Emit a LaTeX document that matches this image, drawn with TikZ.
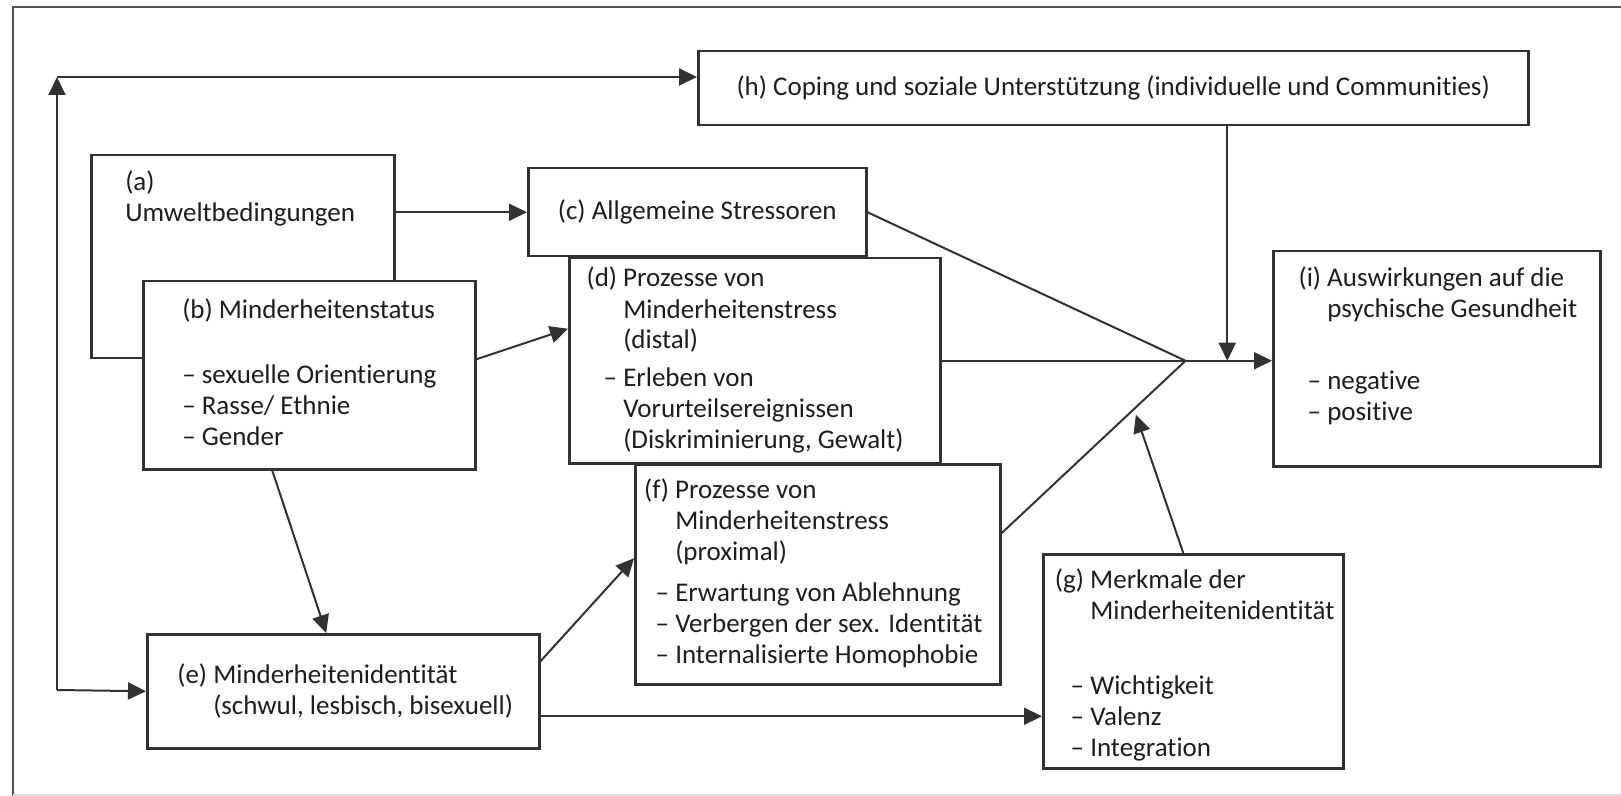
\documentclass[tikz,border=0pt]{standalone}
\usepackage{fontspec}
\setmainfont{Carlito}[Ligatures=NoCommon]
\usetikzlibrary{arrows.meta,calc}
\definecolor{framegray}{RGB}{80,80,86}
\definecolor{linegray}{RGB}{50,50,50}
\definecolor{textgray}{RGB}{30,30,30}
\newlength{\px}
\setlength{\px}{0.5pt}
% width, height, left margin, top gap, text (all in px)
\newcommand{\boxbody}[5]{%
  \begin{minipage}[c][#2\px][t]{#1\px}\raggedright\setlength{\leftskip}{#3\px}%
  \vspace*{#4\px}\strut #5\end{minipage}}
\newcommand{\boxlabel}[1]{\leavevmode\llap{#1\ }}
\newcommand{\itemdash}{\leavevmode\llap{–\ }}

\begin{document}
\begin{tikzpicture}[x=0.5pt, y=-0.5pt,
    factor/.style={draw=linegray, line width=1.25pt, fill=white, inner sep=0pt,
        anchor=north west, text=textgray, font=\fontsize{13.5}{15.5}\selectfont},
    arr/.style={-{Triangle[length=9pt, width=8.5pt]}, line width=1pt, linegray},
    link/.style={line width=1pt, linegray}
]
    \useasboundingbox (0,0) rectangle (1621,796);
    \draw[framegray, line width=1.2pt] (13,796) -- (13,7) -- (1621,7);
    \draw[gray!25, line width=0.8pt] (13,795) -- (1621,795);

    \node[factor] (a) at (90,154) {\boxbody{303}{203}{34}{14}{(a)\\Umweltbedingungen}};
    \node[factor] (b) at (142,280) {\boxbody{332}{188}{39}{16}{(b) Minderheitenstatus\\[34\px]%
        – sexuelle Orientierung\\– Rasse/ Ethnie\\– Gender}};
    \node[factor, minimum width=338\px, minimum height=88\px] (c) at (527,167)
        {(c) Allgemeine Stressoren};
    \node[factor] (d) at (568,257) {\boxbody{371}{205}{54}{7}{\boxlabel{(d)}Prozesse von\\[1\px]%
        Minderheitenstress\\[-1\px](distal)\\[7\px]\itemdash Erleben von\\Vorurteilsereignissen\\%
        (Diskriminierung, Gewalt)}};
    \node[factor] (e) at (146,633) {\boxbody{392}{114}{66}{28}{\boxlabel{(e)}Minderheitenidentität\\%
        (schwul, lesbisch, bisexuell)}};
    \node[factor] (f) at (634,463) {\boxbody{365}{220}{40}{13}{\boxlabel{(f)}Prozesse von\\%
        Minderheitenstress\\(proximal)\\[10\px]\itemdash Erwartung von Ablehnung\\%
        \itemdash Verbergen der sex. Identität\\\itemdash Internalisierte Homophobie}};
    \node[factor] (g) at (1042,553) {\boxbody{300}{214}{47}{13}{\boxlabel{(g)}Merkmale der\\%
        Minderheitenidentität\\[44\px]\itemdash Wichtigkeit\\\itemdash Valenz\\\itemdash Integration}};
    \node[factor, minimum width=830\px, minimum height=74\px] (h) at (697,50)
        {(h) Coping und soziale Unterstützung (individuelle und Communities)};
    \node[factor] (i) at (1272,250) {\boxbody{327}{215}{54}{14}{\boxlabel{(i)}Auswirkungen auf die\\%
        psychische Gesundheit\\[41\px]\itemdash negative\\\itemdash positive}};

    % feedback loop on the left
    \coordinate (loopbot) at (57,690);
    \coordinate (looptop) at (57,77);
    \draw[arr] (loopbot) -- (e.west);
    \draw[arr] (loopbot) -- (looptop);
    \draw[arr] (looptop) -- (looptop -| h.west);

    \draw[arr] (a.east |- c.west) -- (c.west);
    \draw[arr] ($(b.east)+(0,-16)$) -- ($(d.west)+(0,-32)$);
    \draw[arr] ($(b.south)+(-37,0)$) -- ($(e.north)+(-17,0)$);
    \draw[arr] ($(e.east)+(0,-30)$) -- ($(f.west)+(0,-16)$);
    \coordinate (eout) at ($(e.east)+(0,25)$);
    \draw[arr] (eout) -- (eout -| g.west);

    % paths meeting before (i)
    \coordinate (junc) at ($(d.east)+(244,0)$);
    \coordinate (fout) at ($(f.east)+(0,-41)$);
    \draw[link] (c.east) -- (junc);
    \draw[link] (d.east) -- (junc);
    \draw[link] (fout) -- (junc);
    \draw[arr] (junc) -- (junc -| i.west);
    \coordinate (hout) at ($(h.south)+(114,0)$);
    \draw[arr] (hout) -- (hout |- junc);
    \draw[arr, shorten >=3pt] ($(g.north)+(-10,0)$) -- ($(fout)!0.72!(junc)$);
\end{tikzpicture}
\end{document}
